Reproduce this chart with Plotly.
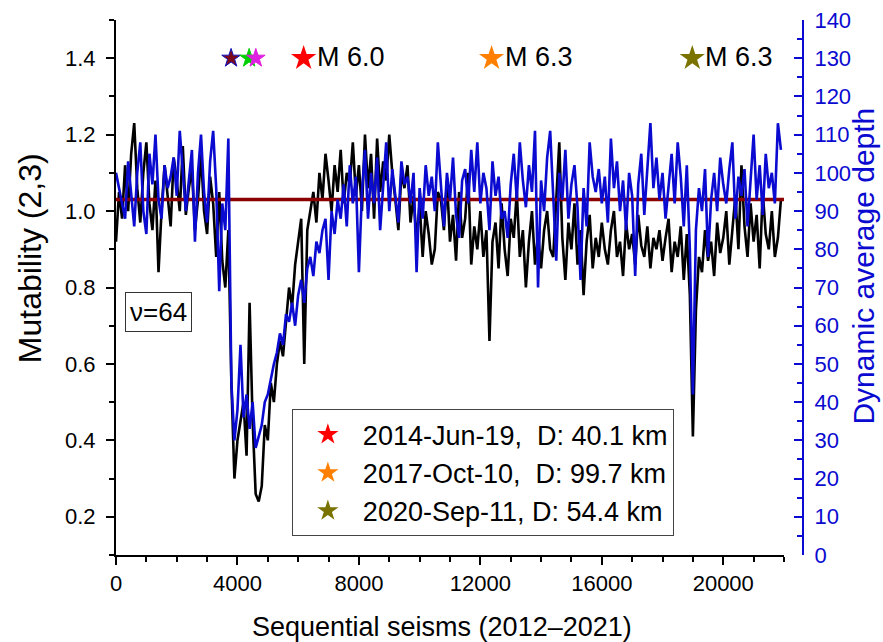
import plotly.graph_objects as go

# ---------------- data ----------------
seism_step = 100
mutability = [
    0.92, 1.05, 0.98, 1.12, 1.00, 1.15, 1.23, 1.06, 0.97, 1.10, 1.18, 1.02, 0.95, 1.08, 0.84, 1.00, 1.12, 1.04, 0.96, 1.14,
    1.08, 1.00, 1.17, 0.99, 1.06, 1.11, 0.95, 1.03, 1.15, 1.00, 0.94, 1.09, 1.02, 0.88, 1.05, 0.87, 0.80, 0.95, 0.55, 0.30,
    0.40, 0.45, 0.50, 0.36, 0.76, 0.45, 0.26, 0.24, 0.28, 0.44, 0.40, 0.55, 0.50, 0.60, 0.66, 0.62, 0.72, 0.80, 0.75, 0.86,
    0.92, 0.98, 0.60, 0.95, 1.00, 1.05, 0.97, 1.10, 1.03, 1.15, 1.08, 1.00, 1.12, 1.05, 1.16, 1.02, 1.10, 1.07, 1.18, 1.04,
    1.12, 1.00, 1.20, 1.06, 1.15, 0.98, 1.19, 1.05, 1.13, 1.08, 1.20, 1.10, 1.03, 0.95, 1.10, 1.06, 1.12, 0.97, 1.04, 0.92,
    1.02, 0.88, 1.00, 0.94, 0.86, 0.90, 1.05, 1.03, 0.95, 1.08, 0.92, 0.99, 0.87, 1.05, 0.93, 0.98, 1.10, 0.86, 0.96, 0.90,
    1.00, 0.88, 0.95, 0.66, 0.92, 0.97, 0.85, 1.02, 0.90, 0.83, 0.98, 0.93, 1.05, 0.88, 0.95, 0.80, 0.92, 1.00, 0.86, 0.94,
    0.85, 0.95, 1.00, 0.90, 0.88, 1.05, 1.18, 0.93, 0.82, 0.97, 0.90, 1.02, 0.86, 0.95, 0.78, 0.92, 0.99, 0.85, 0.93, 0.88,
    0.97, 0.90, 0.86, 0.95, 1.00, 0.88, 0.92, 0.83, 0.97, 0.90, 0.94, 0.86, 0.99, 0.91, 0.88, 0.96, 0.85, 0.93, 0.90, 0.95,
    0.87, 0.93, 0.98, 0.84, 0.92, 0.88, 0.96, 0.82, 0.94, 0.78, 0.41, 0.74, 0.88, 0.84, 0.95, 0.87, 0.92, 0.83, 0.97, 0.89,
    0.93, 1.00, 0.86, 0.95, 1.04, 0.90, 1.12, 0.96, 0.88, 1.02, 0.92, 0.99, 0.85, 1.05, 0.94, 0.90, 1.00, 0.88, 0.93, 1.03,
]
avg_depth = [
    100, 96, 92, 88, 103, 95, 86, 100, 108, 90, 84, 105, 97, 110, 93, 88, 102, 96, 99, 104,
    94, 111, 101, 90, 98, 106, 82, 100, 110, 95, 87, 103, 111, 96, 69, 92, 85, 109, 45, 30,
    38, 55, 36, 42, 33, 40, 28, 31, 34, 40, 42, 46, 50, 53, 58, 55, 63, 61, 66, 60,
    68, 72, 66, 75, 78, 73, 82, 79, 85, 88, 72, 90, 84, 93, 88, 97, 86, 102, 92, 99,
    74, 95, 106, 88, 100, 92, 104, 85, 98, 108, 90, 101, 94, 87, 103, 97, 99, 92, 100, 74,
    96, 88, 102, 94, 99, 90, 108, 97, 86, 100, 93, 104, 89, 83, 98, 101, 92, 106, 95, 108,
    92, 100, 96, 85, 103, 94, 99, 88, 90, 83, 97, 105, 93, 108, 98, 91, 102, 95, 111, 70,
    98, 90, 104, 111, 95, 77, 100, 93, 106, 88, 97, 102, 91, 72, 96, 86, 108, 99, 95, 101,
    92, 99, 87, 109, 96, 103, 90, 98, 85, 100, 94, 73, 97, 105, 89, 101, 113, 96, 104, 93,
    100, 88, 97, 105, 92, 108, 99, 86, 102, 80, 42, 85, 96, 90, 101, 78, 93, 100, 90, 104,
    97, 92, 101, 108, 88, 99, 94, 101, 86, 98, 110, 93, 102, 89, 105, 96, 100, 92, 113, 106,
]
seism_index = [i * seism_step for i in range(len(mutability))]
mutability_mean = 1.03

# main earthquakes (legend)
eq_index = [6180, 12370, 18980]
eq_level = [1.4, 1.4, 1.4]
eq_mag = ["M 6.0", "M 6.3", "M 6.3"]
eq_name = ["2014-Jun-19,\u00a0 D: 40.1 km", "2017-Oct-10,\u00a0 D: 99.7 km", "2020-Sep-11, D: 54.4 km"]
eq_color = ["#ff0000", "#ff8000", "#7a7300"]

# small foreshock stars
small_index = [3790, 4385, 4605]
small_level = [1.4, 1.4, 1.4]
small_color = ["#7a0a1a", "#00d000", "#e020e0"]
small_line = ["#1010c0", "#00d000", "#e020e0"]

x_range = [0, 22000]
left_range = [0.1, 1.5]
right_range = [0, 140]

# ---------------- figure ----------------
FONT = "Arial, Liberation Sans, sans-serif"
BLUE = "#0a0ad0"

fig = go.Figure()

fig.add_trace(go.Scatter(x=seism_index, y=mutability, mode="lines",
                         line=dict(color="black", width=2.6), showlegend=False))
fig.add_trace(go.Scatter(x=x_range, y=[mutability_mean, mutability_mean], mode="lines",
                         line=dict(color="#8b0000", width=3.5), showlegend=False))
fig.add_trace(go.Scatter(x=seism_index, y=avg_depth, mode="lines", yaxis="y2",
                         line=dict(color=BLUE, width=2.6), showlegend=False))

for xi, yi, c, lc in zip(small_index, small_level, small_color, small_line):
    fig.add_trace(go.Scatter(x=[xi], y=[yi], mode="markers", showlegend=False,
                             marker=dict(symbol="star", size=14, color=c,
                                         line=dict(color=lc, width=1))))

for xi, yi, c, nm, mg in zip(eq_index, eq_level, eq_color, eq_name, eq_mag):
    fig.add_trace(go.Scatter(x=[xi], y=[yi], mode="markers", name=nm,
                             marker=dict(symbol="star", size=19, color=c,
                                         line=dict(width=0))))
    fig.add_annotation(x=xi, y=yi, xref="x", yref="y", text=mg, showarrow=False,
                       xanchor="left", xshift=11, yshift=1,
                       font=dict(family=FONT, size=27, color="black"))

fig.add_annotation(x=0.013, y=0.455, xref="paper", yref="paper", text="\u03bd=64",
                   showarrow=False, xanchor="left", yanchor="middle",
                   font=dict(family=FONT, size=26, color="black"),
                   bordercolor="#333333", borderwidth=1, borderpad=4, bgcolor="white")

# axis titles
fig.add_annotation(x=-0.125, y=0.555, xref="paper", yref="paper", text="Mutability (2,3)",
                   textangle=-90, showarrow=False, xanchor="center", yanchor="middle",
                   font=dict(family=FONT, size=32, color="black"))
fig.add_annotation(x=1.088, y=0.54, xref="paper", yref="paper", text="Dynamic average depth",
                   textangle=-90, showarrow=False, xanchor="center", yanchor="middle",
                   font=dict(family=FONT, size=30, color=BLUE))
fig.add_annotation(x=0.475, y=-0.134, xref="paper", yref="paper",
                   text="Sequential seisms (2012\u20132021)", showarrow=False,
                   xanchor="center", yanchor="middle",
                   font=dict(family=FONT, size=27, color="black"))

fig.update_layout(
    width=883, height=642,
    margin=dict(l=116, r=80, t=20, b=87, autoexpand=False),
    paper_bgcolor="white", plot_bgcolor="white",
    font=dict(family=FONT, size=22, color="black"),
    xaxis=dict(domain=[0, 0.9723], range=x_range, tickmode="linear", tick0=0, dtick=4000,
               tickformat="d", automargin=False,
               ticks="outside", ticklen=8, tickwidth=2, tickcolor="black",
               showline=True, linecolor="black", linewidth=2, showgrid=False, zeroline=False,
               tickfont=dict(family=FONT, size=22, color="black"),
               minor=dict(dtick=1000, ticks="outside", ticklen=5, tickwidth=2, tickcolor="black")),
    yaxis=dict(range=left_range, tickmode="linear", tick0=0.2, dtick=0.2, automargin=False,
               ticks="outside", ticklen=8, tickwidth=2, tickcolor="black",
               showline=True, linecolor="black", linewidth=2, showgrid=False, zeroline=False,
               tickformat=".1f", ticklabelstandoff=6,
               tickfont=dict(family=FONT, size=22, color="black"),
               minor=dict(dtick=0.1, tick0=0.1, ticks="outside", ticklen=5, tickwidth=2,
                          tickcolor="black")),
    yaxis2=dict(range=right_range, overlaying="y", side="right", anchor="free", position=1.0,
                tickmode="linear", tick0=0, dtick=10, automargin=False,
                ticks="inside", ticklen=8, tickwidth=2, tickcolor=BLUE,
                showline=True, linecolor=BLUE, linewidth=2, showgrid=False, zeroline=False,
                ticklabelstandoff=6,
                tickfont=dict(family=FONT, size=22, color=BLUE),
                minor=dict(dtick=5, ticks="inside", ticklen=5, tickwidth=2, tickcolor=BLUE)),
    legend=dict(x=0.256, y=0.272, xanchor="left", yanchor="top",
                bordercolor="#444444", borderwidth=1, bgcolor="white",
                font=dict(family=FONT, size=27, color="black"),
                itemwidth=60, tracegroupgap=0),
)

fig.write_html("out.html")
